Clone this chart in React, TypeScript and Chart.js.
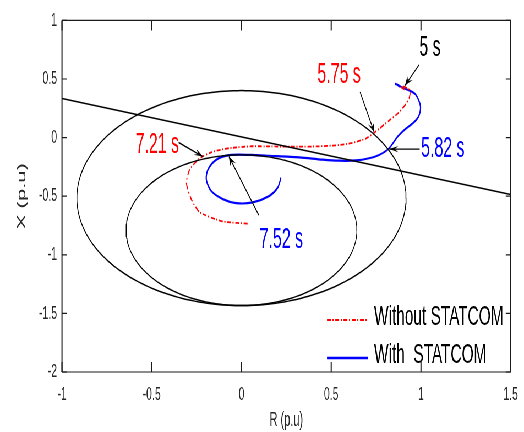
import React, { useEffect, useRef } from "react";
import { Chart, registerables } from "chart.js";

Chart.register(...registerables);

// The figure is laid out on a wide canvas and squeezed horizontally,
// which gives the narrow, condensed look of the exported MATLAB plot.
const CANVAS_W = 952;
const CANVAS_H = 432;
const SQUEEZE = 524 / CANVAS_W;
const FONT = "'Liberation Sans', Arial, Helvetica, sans-serif";

// Axis ranges and tick values
const xTicks = [-1, -0.5, 0, 0.5, 1, 1.5];
const yTicks = [-2, -1.5, -1, -0.5, 0, 0.5, 1];

// Mho relay circles: centre (R, X) and radius
const circleCentres: [number, number][] = [
  [0, -0.516],
  [0, -0.79],
];
const circleRadii = [0.917, 0.643];

// Blinder line end points
const blinderLine: [number, number][] = [
  [-1, 0.333],
  [1.5, -0.486],
];

// Impedance trajectory without STATCOM (R, X)
const withoutStatcom: [number, number][] = [
  [0.89, 0.43], [0.91, 0.41], [0.895, 0.44], [0.92, 0.425], [0.94, 0.4],
  [0.935, 0.34], [0.915, 0.285], [0.878, 0.215], [0.822, 0.145], [0.767, 0.075],
  [0.739, 0.04], [0.693, -0.008], [0.619, -0.045], [0.544, -0.064], [0.42, -0.075],
  [0.3, -0.078], [0.15, -0.075], [0.06, -0.074], [-0.067, -0.09], [-0.159, -0.12],
  [-0.233, -0.176], [-0.289, -0.274], [-0.307, -0.386], [-0.28, -0.525],
  [-0.233, -0.637], [-0.104, -0.715], [0.044, -0.735],
];

// Impedance trajectory with STATCOM (R, X)
const withStatcom: [number, number][] = [
  [0.856, 0.458], [0.87, 0.45], [0.88, 0.437], [0.868, 0.452], [0.9, 0.425],
  [0.924, 0.41], [0.943, 0.397], [0.97, 0.369], [0.989, 0.313], [0.998, 0.257],
  [0.989, 0.187], [0.961, 0.131], [0.915, 0.075], [0.869, 0.006], [0.822, -0.092],
  [0.767, -0.148], [0.711, -0.176], [0.637, -0.195], [0.544, -0.197], [0.452, -0.188],
  [0.322, -0.168], [0.156, -0.155], [0.05, -0.148], [-0.067, -0.15], [-0.141, -0.19],
  [-0.187, -0.274], [-0.196, -0.358], [-0.169, -0.455], [-0.104, -0.525],
  [-0.03, -0.559], [0.063, -0.553], [0.156, -0.497], [0.202, -0.427], [0.22, -0.344],
];

// Time markers: label, colour, label anchor, arrow tail, arrow head (all in R, X)
const markerLabels = ["5 s", "5.75 s", "5.82 s", "7.21 s", "7.52 s"];
const markerColors = ["#000000", "#ff0000", "#0000ff", "#ff0000", "#0000ff"];
const markerText: [number, number][] = [
  [1.05, 0.763], [0.544, 0.536], [1.122, -0.1], [-0.469, -0.059], [0.222, -0.872],
];
const arrowFrom: [number, number][] = [
  [0.989, 0.62], [0.661, 0.388], [0.993, -0.098], [-0.35, -0.042], [0.096, -0.66],
];
const arrowTo: [number, number][] = [
  [0.911, 0.444], [0.739, 0.048], [0.824, -0.098], [-0.215, -0.162], [-0.07, -0.162],
];

const seriesNames = ["Without STATCOM", "With  STATCOM"];
const seriesColors = ["#ff0000", "#0000ff"];
const redDash = [7, 3, 2, 3];

const toPoints = (arr: [number, number][]) => arr.map(([x, y]) => ({ x, y }));

function circlePoints(c: [number, number], r: number) {
  const pts: { x: number; y: number }[] = [];
  for (let i = 0; i <= 240; i++) {
    const t = (i / 240) * Math.PI * 2;
    pts.push({ x: c[0] + r * Math.cos(t), y: c[1] + r * Math.sin(t) });
  }
  return pts;
}

function drawArrow(ctx: CanvasRenderingContext2D, x0: number, y0: number, x1: number, y1: number) {
  ctx.beginPath();
  ctx.moveTo(x0, y0);
  ctx.lineTo(x1, y1);
  ctx.stroke();
  // arrow head geometry is worked out in on-screen (squeezed) space
  const dx = (x1 - x0) * SQUEEZE;
  const dy = y1 - y0;
  const L = Math.hypot(dx, dy);
  const ux = dx / L;
  const uy = dy / L;
  const len = 9;
  const half = 3.2;
  const bx = -ux * len;
  const by = -uy * len;
  const nx = -ux * len * 0.6;
  const ny = -uy * len * 0.6;
  ctx.beginPath();
  ctx.moveTo(x1, y1);
  ctx.lineTo(x1 + (bx - uy * half) / SQUEEZE, y1 + by + ux * half);
  ctx.lineTo(x1 + nx / SQUEEZE, y1 + ny);
  ctx.lineTo(x1 + (bx + uy * half) / SQUEEZE, y1 + by - ux * half);
  ctx.closePath();
  ctx.fill();
}

const overlayPlugin = {
  id: "overlay",
  afterDatasetsDraw(chart: any) {
    const { ctx, chartArea: a, scales } = chart;
    const xs = scales.x;
    const ys = scales.y;
    ctx.save();

    // axes box
    ctx.strokeStyle = "#1a1a1a";
    ctx.lineWidth = 1.2;
    ctx.beginPath();
    ctx.moveTo(a.left, a.top);
    ctx.lineTo(a.right, a.top);
    ctx.moveTo(a.left, a.bottom);
    ctx.lineTo(a.right, a.bottom);
    ctx.stroke();
    ctx.lineWidth = 2;
    ctx.beginPath();
    ctx.moveTo(a.left, a.top);
    ctx.lineTo(a.left, a.bottom);
    ctx.moveTo(a.right, a.top);
    ctx.lineTo(a.right, a.bottom);
    ctx.stroke();

    // inward tick marks on all four sides
    ctx.lineWidth = 2;
    ctx.beginPath();
    for (const v of xTicks) {
      const px = xs.getPixelForValue(v);
      ctx.moveTo(px, a.bottom);
      ctx.lineTo(px, a.bottom - 10);
      ctx.moveTo(px, a.top);
      ctx.lineTo(px, a.top + 10);
    }
    ctx.stroke();
    ctx.lineWidth = 1.2;
    ctx.beginPath();
    for (const v of yTicks) {
      const py = ys.getPixelForValue(v);
      ctx.moveTo(a.left, py);
      ctx.lineTo(a.left + 9, py);
      ctx.moveTo(a.right, py);
      ctx.lineTo(a.right - 9, py);
    }
    ctx.stroke();

    // time markers with arrows
    ctx.strokeStyle = "#000";
    ctx.fillStyle = "#000";
    ctx.lineWidth = 1.4;
    for (let i = 0; i < markerLabels.length; i++) {
      drawArrow(
        ctx,
        xs.getPixelForValue(arrowFrom[i][0]),
        ys.getPixelForValue(arrowFrom[i][1]),
        xs.getPixelForValue(arrowTo[i][0]),
        ys.getPixelForValue(arrowTo[i][1])
      );
    }
    ctx.font = `29px ${FONT}`;
    ctx.textAlign = "center";
    ctx.textBaseline = "middle";
    for (let i = 0; i < markerLabels.length; i++) {
      ctx.fillStyle = markerColors[i];
      ctx.fillText(
        markerLabels[i],
        xs.getPixelForValue(markerText[i][0]),
        ys.getPixelForValue(markerText[i][1])
      );
    }

    // legend in the lower right corner of the axes
    const lineX0 = 327 / SQUEEZE;
    const lineX1 = 368 / SQUEEZE;
    const textX = 374 / SQUEEZE;
    const rows = [319, 357];
    ctx.textAlign = "left";
    ctx.font = `28px ${FONT}`;
    for (let i = 0; i < seriesNames.length; i++) {
      ctx.strokeStyle = seriesColors[i];
      ctx.lineWidth = i === 0 ? 2 : 2.6;
      ctx.setLineDash(i === 0 ? redDash : []);
      ctx.beginPath();
      ctx.moveTo(lineX0, rows[i] + 1);
      ctx.lineTo(lineX1, rows[i] + 1);
      ctx.stroke();
      ctx.setLineDash([]);
      ctx.fillStyle = "#000";
      ctx.fillText(seriesNames[i], textX, rows[i] - 2);
    }
    ctx.restore();
  },
};

const tickText = (v: number | string) => String(Number(v));

export default function App() {
  const canvasRef = useRef<HTMLCanvasElement | null>(null);

  useEffect(() => {
    document.body.style.margin = "0";
    document.body.style.overflow = "hidden";
    document.documentElement.style.overflow = "hidden";
    const canvas = canvasRef.current;
    if (!canvas) return;

    const lineBase = { showLine: true, pointRadius: 0, fill: false };
    const chart = new Chart(canvas, {
      type: "scatter",
      data: {
        datasets: [
          { ...lineBase, label: "outer zone", data: circlePoints(circleCentres[0], circleRadii[0]), borderColor: "#000", borderWidth: 1.5, tension: 0 },
          { ...lineBase, label: "inner zone", data: circlePoints(circleCentres[1], circleRadii[1]), borderColor: "#000", borderWidth: 1.4, tension: 0 },
          { ...lineBase, label: "blinder", data: toPoints(blinderLine), borderColor: "#000", borderWidth: 1.6, tension: 0 },
          { ...lineBase, label: seriesNames[0], data: toPoints(withoutStatcom), borderColor: seriesColors[0], borderWidth: 1.8, borderDash: redDash, tension: 0.2 },
          { ...lineBase, label: seriesNames[1], data: toPoints(withStatcom), borderColor: seriesColors[1], borderWidth: 2.2, tension: 0.3 },
        ],
      } as any,
      options: {
        animation: false,
        responsive: true,
        maintainAspectRatio: false,
        devicePixelRatio: 1,
        layout: { padding: { top: 14, right: 22, bottom: 0, left: 0 } },
        plugins: { legend: { display: false }, tooltip: { enabled: false } },
        scales: {
          x: {
            type: "linear",
            min: -1,
            max: 1.5,
            afterFit: (s: any) => { s.height = 60; },
            afterBuildTicks: (s: any) => { s.ticks = xTicks.map((v) => ({ value: v })); },
            ticks: { padding: 11, color: "#262626", font: { family: FONT, size: 19 }, maxRotation: 0, autoSkip: false, callback: tickText },
            grid: { display: false, drawTicks: false },
            border: { display: false },
            title: { display: true, text: "R (p.u)", color: "#262626", font: { family: FONT, size: 20 }, padding: { top: 0, bottom: 0 } },
          },
          y: {
            type: "linear",
            min: -2,
            max: 1,
            afterFit: (s: any) => { s.width = 112.6; },
            afterBuildTicks: (s: any) => { s.ticks = yTicks.map((v) => ({ value: v })); },
            ticks: { padding: 9, color: "#262626", font: { family: FONT, size: 19 }, autoSkip: false, callback: tickText },
            grid: { display: false, drawTicks: false },
            border: { display: false },
            title: { display: true, text: "X (p.u)", color: "#262626", font: { family: FONT, size: 22 }, padding: { top: 27, bottom: 0 } },
          },
        },
      } as any,
      plugins: [overlayPlugin],
    });
    return () => chart.destroy();
  }, []);

  return (
    <div
      style={{
        width: CANVAS_W,
        height: CANVAS_H,
        transform: `scaleX(${SQUEEZE})`,
        transformOrigin: "0 0",
        background: "#fff",
        position: "relative",
      }}
    >
      <canvas ref={canvasRef} />
    </div>
  );
}
